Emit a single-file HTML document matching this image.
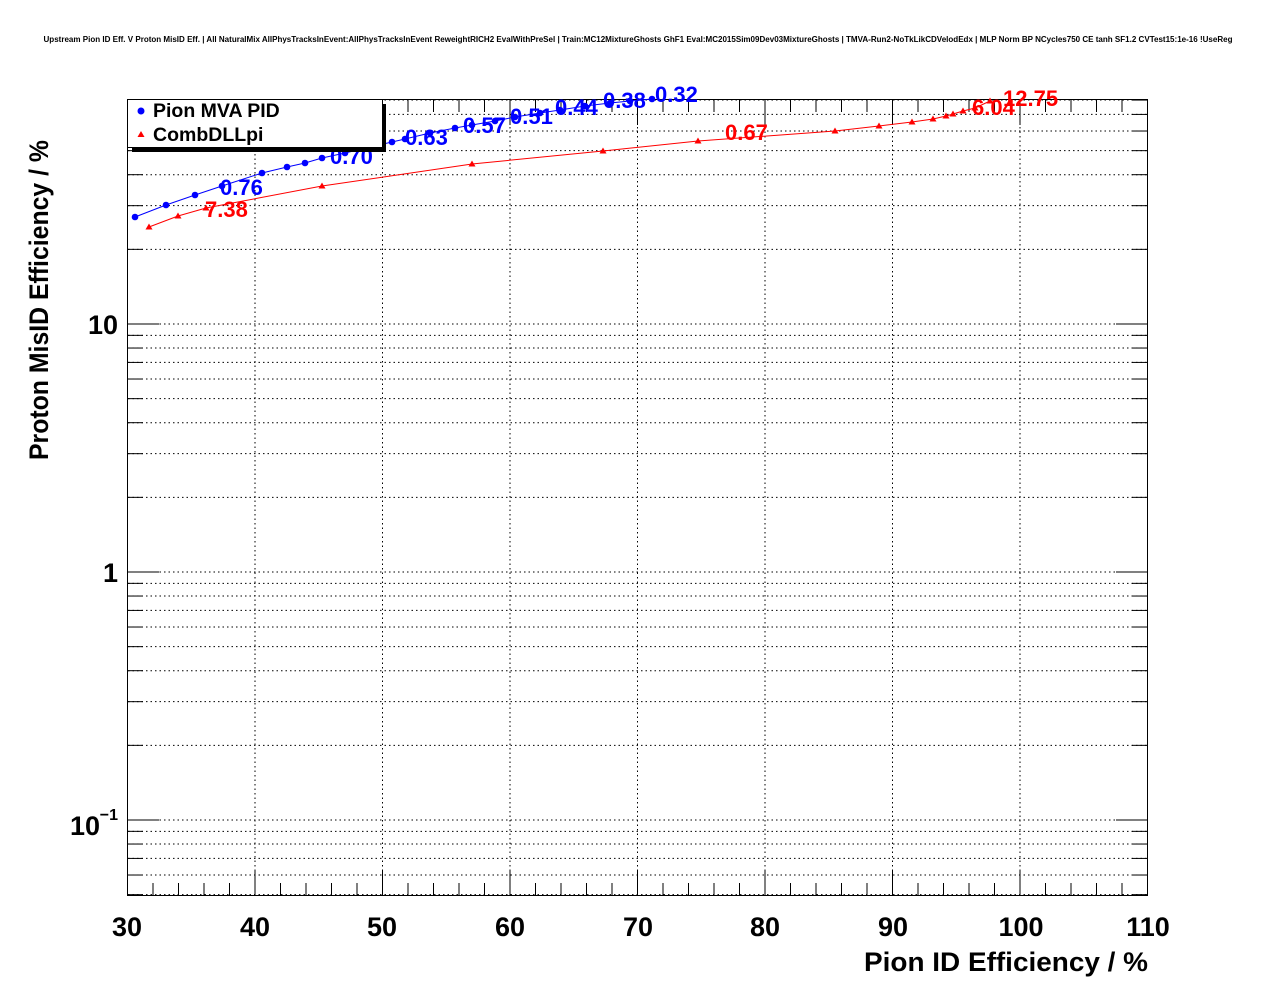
<!DOCTYPE html>
<html><head><meta charset="utf-8"><style>
html,body{margin:0;padding:0;background:#fff;}
svg{display:block;font-family:"Liberation Sans",sans-serif;}
</style></head><body>
<svg id="s" width="1276" height="996" viewBox="0 0 1276 996" xmlns="http://www.w3.org/2000/svg">
<rect width="1276" height="996" fill="#fff"/>
<g id="grid"></g>
<g id="ticks" stroke="#000" stroke-width="1"></g>
<rect x="127.5" y="99.5" width="1020" height="796" fill="none" stroke="#000" stroke-width="1"/>
<g id="series"></g>
<text x="638" y="42" font-size="8" font-weight="bold" text-anchor="middle" textLength="1189" lengthAdjust="spacingAndGlyphs">Upstream Pion ID Eff. V Proton MisID Eff. | All NaturalMix AllPhysTracksInEvent:AllPhysTracksInEvent ReweightRICH2 EvalWithPreSel | Train:MC12MixtureGhosts GhF1 Eval:MC2015Sim09Dev03MixtureGhosts | TMVA-Run2-NoTkLikCDVelodEdx | MLP Norm BP NCycles750 CE tanh SF1.2 CVTest15:1e-16 !UseReg</text>
<g font-size="27" font-weight="bold" text-anchor="middle">
<text x="127" y="936">30</text><text x="255" y="936">40</text><text x="382" y="936">50</text><text x="510" y="936">60</text><text x="638" y="936">70</text><text x="765" y="936">80</text><text x="893" y="936">90</text><text x="1021" y="936">100</text><text x="1148" y="936">110</text>
</g>
<g font-size="27" font-weight="bold" text-anchor="end">
<text x="118" y="334">10</text><text x="118" y="582">1</text>
<text x="100" y="835">10</text><text x="118" y="820" font-size="16">−1</text>
</g>
<text x="1148" y="971" font-size="27" font-weight="bold" text-anchor="end" textLength="284" lengthAdjust="spacingAndGlyphs">Pion ID Efficiency / %</text>
<text transform="translate(48,460) rotate(-90)" font-size="27" font-weight="bold" textLength="320" lengthAdjust="spacingAndGlyphs">Proton MisID Efficiency / %</text>
<g font-size="22" font-weight="bold" fill="#0000ff">
<text x="220" y="195">0.76</text><text x="330" y="164">0.70</text><text x="405" y="145">0.63</text><text x="463" y="133">0.57</text><text x="510" y="124">0.51</text><text x="555" y="115">0.44</text><text x="603" y="108">0.38</text><text x="655" y="102">0.32</text>
</g>
<g font-size="22" font-weight="bold" fill="#ff0000">
<text x="205" y="217">7.38</text><text x="725" y="140">0.67</text><text x="972" y="115">6.04</text><text x="1003" y="106">12.75</text>
</g>
<rect x="132" y="104" width="254" height="48" fill="#000"/>
<rect x="127.5" y="99.5" width="255" height="48" fill="#fff" stroke="#000"/>
<circle cx="141" cy="111" r="3.5" fill="#0000ff"/>
<polygon points="141,131 137.5,137 144.5,137" fill="#ff0000"/>
<text x="153" y="117" font-size="19.5" font-weight="bold">Pion MVA PID</text>
<text x="153" y="141" font-size="19.5" font-weight="bold">CombDLLpi</text>
</svg>
<script>
const NS="http://www.w3.org/2000/svg";
const X=v=>127.5+(v-30)*12.75, Y=v=>324-(Math.log10(v)-1)*248;
function el(p,t,a){const e=document.createElementNS(NS,t);for(const k in a)e.setAttribute(k,a[k]);document.getElementById(p).appendChild(e);return e;}
for(let v=40;v<=100;v+=10)el("grid","line",{x1:X(v),x2:X(v),y1:100,y2:895,stroke:"#000","stroke-dasharray":"1.5,3"});
const ys=[];for(const d of [0.01,0.1,1,10])for(let m=1;m<=9;m++){const v=d*m;const y=Y(v);if(y>100&&y<895)ys.push([y,m==1]);}
ys.push([Y(80),false]);
for(const [y,maj] of ys){el("grid","line",{x1:128,x2:1147,y1:y,y2:y,stroke:"#000","stroke-dasharray":"1.5,3"});
 const L=maj?31:15;el("ticks","line",{x1:128,x2:128+L,y1:y,y2:y});el("ticks","line",{x1:1147-L,x2:1147,y1:y,y2:y});}
for(let v=30;v<=110;v+=2){const maj=v%10==0,L=maj?25:12;el("ticks","line",{x1:X(v),x2:X(v),y1:895,y2:895-L});el("ticks","line",{x1:X(v),x2:X(v),y1:100,y2:100+L});}
const blue=[[135,217],[166,205],[195,195],[222,186],[262,173],[287,167],[305,163],[322,158],[345,153],[370,147],[392,142],[405,139],[430,133],[455,128],[472,125],[495,121],[515,117],[540,113],[560,110],[585,106],[610,103],[630,101],[652,99]];
const red=[[149,227],[178,216],[206,208],[322,186],[472,164],[603,151],[698,141],[835,131],[879,126],[912,122],[933,119],[946,116],[953,114],[963,111],[975,108],[990,101]];
el("series","polyline",{points:blue.map(p=>p.join(",")).join(" "),fill:"none",stroke:"#0000ff","stroke-width":1});
el("series","polyline",{points:red.map(p=>p.join(",")).join(" "),fill:"none",stroke:"#ff0000","stroke-width":1});
blue.forEach(p=>el("series","circle",{cx:p[0],cy:p[1],r:3.3,fill:"#0000ff"}));
red.forEach(p=>el("series","polygon",{points:`${p[0]},${p[1]-3.5} ${p[0]-3.5},${p[1]+2.5} ${p[0]+3.5},${p[1]+2.5}`,fill:"#ff0000"}));
</script>
</body></html>
